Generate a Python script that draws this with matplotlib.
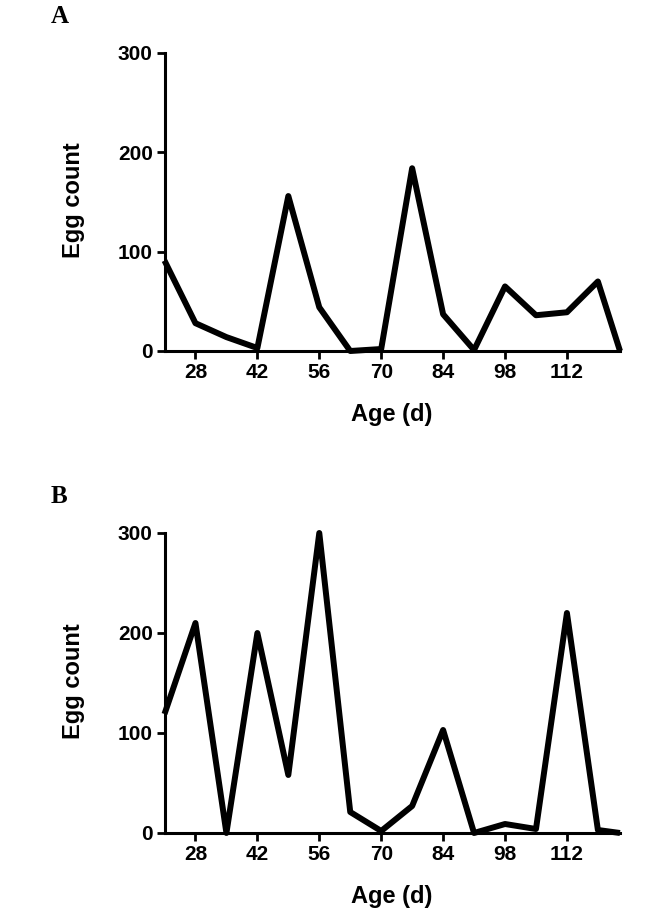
import matplotlib
matplotlib.use("Agg")
import matplotlib.pyplot as plt

age = [21, 28, 35, 42, 49, 56, 63, 70, 77, 84, 91, 98, 105, 112, 119, 124]
eggs_a = [91, 28, 14, 3, 156, 44, 0, 2, 184, 37, 1, 65, 36, 39, 70, 0]
eggs_b = [119, 210, 0, 200, 58, 300, 21, 2, 27, 103, 0, 9, 4, 220, 3, 0]
xticks = [28, 42, 56, 70, 84, 98, 112]
yticks = [0, 100, 200, 300]
panels = ["A", "B"]

W, H = 669, 914
fig = plt.figure(figsize=(W / 100, H / 100), dpi=100)

def fx(px):
    return px / W

def fy(py):
    return 1 - py / H

sans = ["Liberation Sans", "DejaVu Sans"]
serif = ["Liberation Serif", "DejaVu Serif"]

layouts = [(53, 351), (533, 833)]
for i, (series, (top, bot)) in enumerate(zip([eggs_a, eggs_b], layouts)):
    left, right = 164.5, 620
    ax = fig.add_axes([fx(left), fy(bot), fx(right - left), (bot - top) / H])
    ax.plot(age, series, color="black", lw=4.3, solid_joinstyle="round",
            solid_capstyle="butt", clip_on=False, zorder=3)
    ax.set_xlim(21, 124)
    ax.set_ylim(0, 300)
    ax.set_xticks(xticks)
    ax.set_yticks(yticks)
    for s in ["top", "right"]:
        ax.spines[s].set_visible(False)
    for s in ["left", "bottom"]:
        ax.spines[s].set_linewidth(2.2)
        ax.spines[s].set_capstyle("projecting")
    ax.tick_params(axis="both", length=5.5, width=2.0, color="black",
                   labelsize=15, pad=3)
    for lab in ax.get_xticklabels() + ax.get_yticklabels():
        lab.set_fontfamily(sans)
        lab.set_fontweight("bold")
    ax.patch.set_alpha(0)

    fig.text(fx(73.5), fy((top + bot) / 2 - 2), "Egg count", rotation=90,
             ha="center", va="center", fontsize=17, fontweight="bold",
             family=sans)
    fig.text(fx(392), fy(bot + 63), "Age (d)", ha="center", va="center",
             fontsize=17, fontweight="bold", family=sans)
    fig.text(fx(51), fy(top - 48), panels[i], ha="left", va="top",
             fontsize=18, fontweight="bold", family=serif)

fig.savefig("out.png", dpi=100)
